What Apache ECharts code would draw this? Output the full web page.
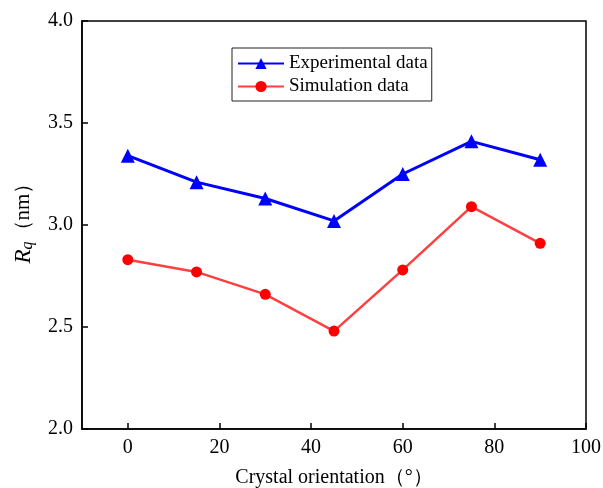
<!DOCTYPE html>
<html><head><meta charset="utf-8">
<script src="https://cdn.jsdelivr.net/npm/echarts@6/dist/echarts.min.js"></script>
<style>html,body{margin:0;padding:0;background:#fff}#c{width:603px;height:488px}</style>
</head><body><div id="c"></div>
<script>
const orientations = [0, 15, 30, 45, 60, 75, 90];
const experimental = [3.34, 3.21, 3.13, 3.02, 3.25, 3.41, 3.32];
const simulation = [2.83, 2.77, 2.66, 2.48, 2.78, 3.09, 2.91];
const xTicks = [0, 20, 40, 60, 80, 100];
const yTicks = [2.0, 2.5, 3.0, 3.5, 4.0];

const font = 'Liberation Serif';
const chart = echarts.init(document.getElementById('c'));
chart.setOption({
  animation: false,
  backgroundColor: '#fff',
  grid: {left: 82, top: 21, right: 17, bottom: 59, containLabel: false, outerBoundsMode: 'none',
    show: true, borderColor: '#000', borderWidth: 1.5, backgroundColor: 'transparent'},
  legend: {
    left: 232, top: 48, orient: 'vertical', itemWidth: 46, itemHeight: 14, itemGap: 4,
    padding: [6, 4, 5, 5], borderColor: '#222', borderWidth: 1,
    textStyle: {fontFamily: font, fontSize: 19, color: '#000'},
    data: ['Experimental data', 'Simulation data']
  },
  xAxis: {
    type: 'value', min: -10, max: 100,
    name: 'Crystal orientation（°）', nameLocation: 'middle', nameGap: 39,
    nameTextStyle: {fontFamily: font, fontSize: 20, color: '#000'},
    axisLine: {show: true, onZero: false, lineStyle: {color: '#000', width: 1.5}},
    axisTick: {show: true, inside: true, length: 6, lineStyle: {color: '#000', width: 1.5}, customValues: xTicks},
    axisLabel: {fontFamily: font, fontSize: 20, color: '#000', margin: 9, customValues: xTicks},
    splitLine: {show: false}
  },
  yAxis: {
    type: 'value', min: 2.0, max: 4.0, interval: 0.5,
    name: '{i|R}{s|q}（nm）', nameLocation: 'middle', nameGap: 46,
    nameTextStyle: {fontFamily: font, fontSize: 21, color: '#000', padding: [0, 0, 0, 14],
      rich: {
        i: {fontFamily: font, fontSize: 23, fontStyle: 'italic', color: '#000'},
        s: {fontFamily: font, fontSize: 16, fontStyle: 'italic', color: '#000', verticalAlign: 'bottom', padding: [9, 0, 0, 0]}
      }},
    axisLine: {show: true, onZero: false, lineStyle: {color: '#000', width: 1.5}},
    axisTick: {show: true, inside: true, length: 6, lineStyle: {color: '#000', width: 1.5}},
    axisLabel: {fontFamily: font, fontSize: 20, color: '#000', margin: 9, formatter: v => v.toFixed(1)},
    splitLine: {show: false}
  },
  series: [
    {
      name: 'Experimental data', type: 'line',
      data: orientations.map((x, i) => [x, experimental[i]]),
      symbol: 'triangle', symbolSize: 14,
      lineStyle: {color: '#0000ff', width: 3},
      itemStyle: {color: '#0000ff'}
    },
    {
      name: 'Simulation data', type: 'line',
      data: orientations.map((x, i) => [x, simulation[i]]),
      symbol: 'circle', symbolSize: 11,
      lineStyle: {color: '#ff4040', width: 2.5},
      itemStyle: {color: '#ff0000'}
    }
  ]
});
</script></body></html>
